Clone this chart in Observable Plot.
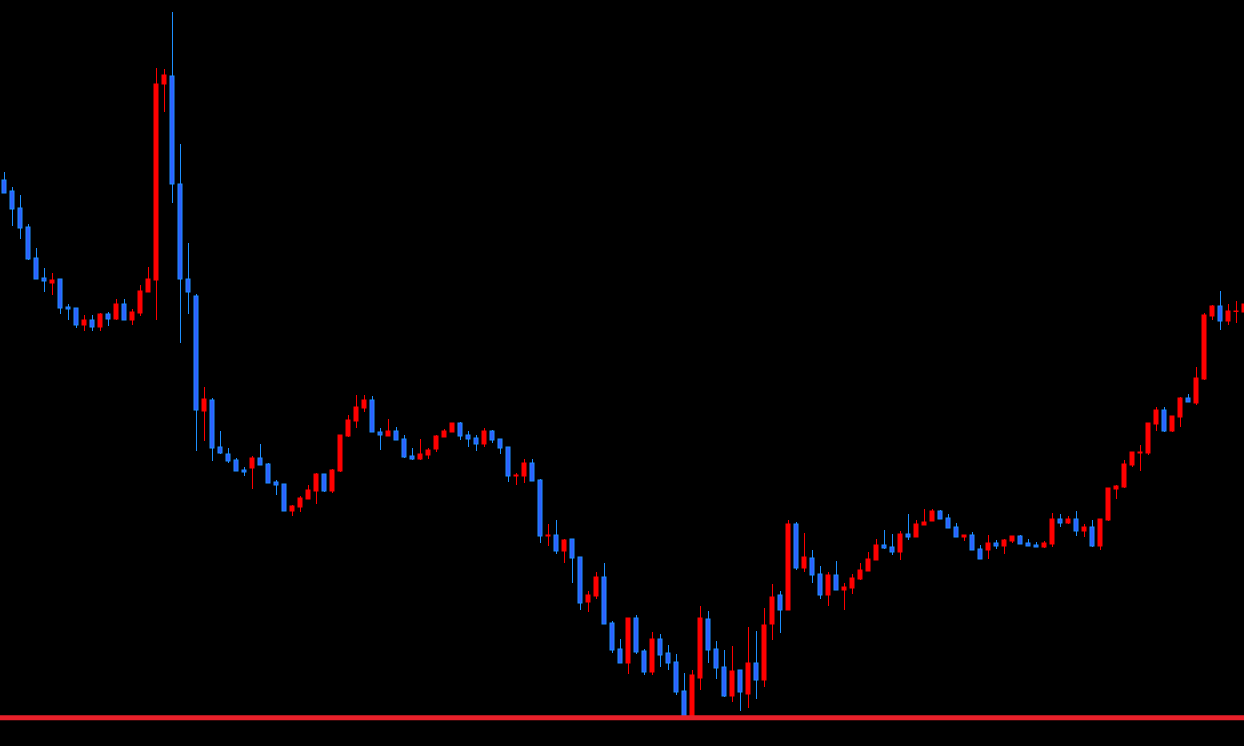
<!DOCTYPE html>
<html><head><meta charset="utf-8">
<script src="https://cdn.jsdelivr.net/npm/d3@7"></script>
<script src="https://cdn.jsdelivr.net/npm/@observablehq/plot@0.6"></script>
<style>html,body{margin:0;padding:0;background:#000;overflow:hidden}#chart svg{display:block}</style>
</head><body><div id="chart"></div>
<script>
// OHLC values (price units), one entry per candle, left to right
const open = [566,555,538,519,488,468,463,467,439,438,421,426,419,432,427,442,426,433,454,466,
662,670,562,467,450,335,346,299,292,286,276,278,288,282,264,262,235,239,247,255,
272,255,275,310,325,338,346,314,310,315,307,290,287,291,297,309,314,323,311,308,
302,315,307,299,270,270,283,266,210,211,195,207,189,144,150,169,123,97,83,128,
95,74,107,93,84,55,30,68,127,97,79,50,76,52,83,66,122,151,136,222,
178,188,172,151,171,156,158,167,175,186,201,199,194,212,209,221,225,235,228,219,
209,211,197,196,203,200,205,210,203,201,199,202,227,223,227,215,219,200,226,257,
259,281,293,293,322,336,315,329,348,343,367,430,440,425,434.5,434];
const high = [574,559,551,522,498,478,473,467,442,438,431,431,433,434,447,447,437,461,479,678,
677,734,602,503,452,359,348,315,298,288,279,290,302,283,266,262,241,250,261,273,
272,277,311,331,351,351,350,318,327,319,311,298,307,298,311,317,323,324,315,311,
318,316,307,299,273,287,287,267,222,226,207,207,189,155,174,183,125,107,128,131,
97,114,112,101,92,73,76,140,135,105,96,100,76,119,115,138,162,155,226,224,
213,196,180,174,185,163,172,183,194,207,216,212,215,232,226,237,237,236,232,223,
211,214,201,211,206,207,210,211,207,204,205,233,232,230,235,222,226,227,258,261,
286,294,301,323,339,339,330,349,352,379,433,441,455,442,445,444];
const low = [553,520,507,486,467,454,451,432,426,418,415,415,415,420,426,426,421,430,454,426,
634,543,403,432,295,305,285,292,283,275,270,257,281,263,251,235,230,234,247,242,
254,253,274,309,318,334,314,296,310,306,288,286,286,287,294,309,314,306,299,295,
299,303,292,264,261,263,265,203,200,192,183,163,136,134,147,122,93,83,72,92,
71,71,79,76,51,30,30,56,83,67,49,44,35,38,47,59,106,113,136,176,
174,163,147,140,156,136,152,166,175,186,197,191,186,206,209,221,225,227,218,209,
205,196,187,187,197,192,203,202,200,199,198,199,219,222,210,209,199,196,225,247,
258,279,275,291,315,314,314,319,344,341,366,426,416,421,423,434];
const close = [553,537,518,487,467,465,466,438,437,421,426,419,432,427,442,426,434,455,467,662,
671,562,467,454,336,347,298,293,285,275,274,288,281,263,261,235,240,248,256,272,
255,276,311,326,339,346,314,311,315,306,289,287,292,296,310,315,323,310,307,302,
315,306,298,270,271,283,265,210,211,195,206,188,143,151,169,122,96,83,128,94,
74,107,91,83,54,30,71,128,96,78,50,75,54,83,66,121,149,136,222,178,
189,171,151,171,156,159,168,176,187,201,198,194,212,209,222,224,235,227,218,209,
211,196,187,203,200,206,210,202,200,199,203,227,223,227,215,219,200,227,258,260,
282,294,294,323,336,315,330,348,344,368,431,440,425,435,435,442];
// horizontal level drawn across the chart
const levelLine = [28.7];

const bars = open.map((o, i) => ({i, o, h: high[i], l: low[i], c: close[i], up: close[i] >= o}));
const upColor = "#ff0000", downFill = "#2f5fff", downEdge = "#1e90ff";

const chart = Plot.plot({
  width: 1244, height: 746, margin: 0,
  style: {background: "#000"},
  x: {type: "linear", domain: [-0.5, 155], axis: null},
  y: {domain: [0, 746], axis: null},
  color: {type: "identity"},
  marks: [
    Plot.ruleX(bars, {x: "i", y1: "l", y2: "h", stroke: d => d.up ? upColor : downEdge, strokeWidth: 1}),
    Plot.rect(bars, {x1: d => d.i - 0.25, x2: d => d.i + 0.25, y1: "o", y2: "c",
      fill: d => d.up ? upColor : downFill, stroke: d => d.up ? upColor : downEdge, strokeWidth: 1}),
    Plot.ruleY(levelLine, {stroke: "#e8202a", strokeWidth: 5})
  ]
});
document.getElementById("chart").append(chart);
</script></body></html>
